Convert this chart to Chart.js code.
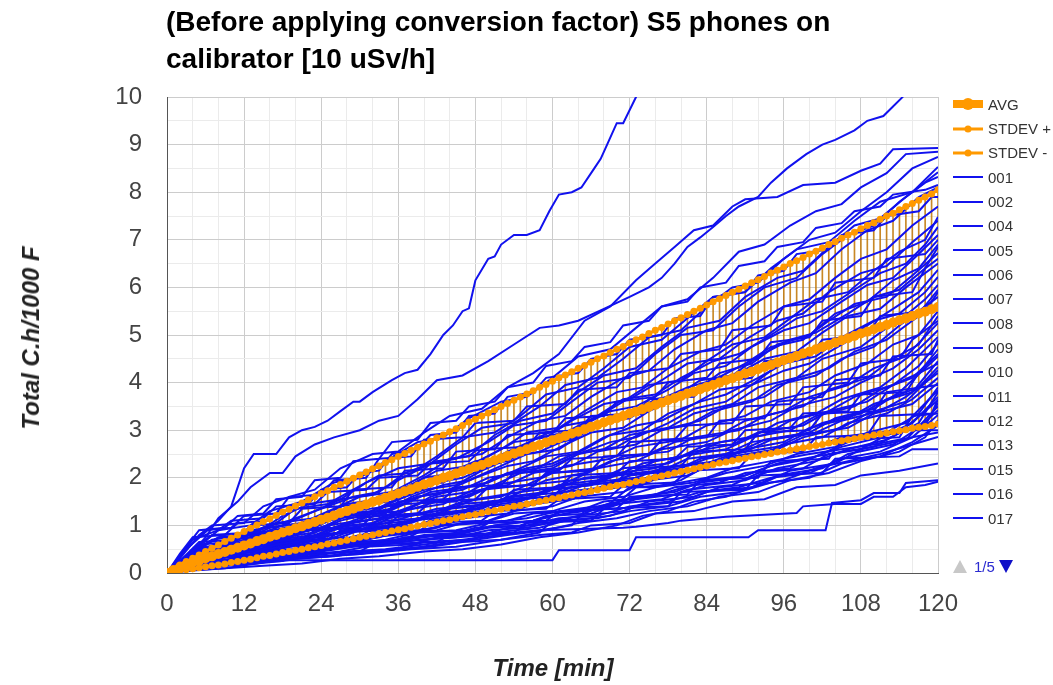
<!DOCTYPE html>
<html>
<head>
<meta charset="utf-8">
<script src="https://cdn.jsdelivr.net/npm/chart.js@4.4.0/dist/chart.umd.min.js"></script>
<style>
  body { margin: 0; background: #fff; font-family: "Liberation Sans", Arial, sans-serif; }
  #wrap { position: relative; width: 1053px; height: 685px; overflow: hidden; }
  #chart { position: absolute; left: 0; top: 0; }
  #title { position: absolute; left: 166px; top: 3px; font-weight: bold; font-size: 28px; line-height: 37px; color: #000; white-space: nowrap; }
  #ytitle { position: absolute; left: 31px; top: 338px; transform: translate(-50%, -50%) rotate(-90deg); font-weight: bold; font-style: italic; font-size: 24px; color: #222; white-space: nowrap; }
  #xtitle { position: absolute; left: 553px; top: 668px; transform: translate(-50%, -50%); font-weight: bold; font-style: italic; font-size: 24px; color: #222; white-space: nowrap; }
  #legend { position: absolute; left: 953px; top: 92px; font-size: 15px; color: #333; }
  .row { height: 24.35px; display: flex; align-items: center; }
  .swatch { position: relative; width: 30px; height: 14px; margin-right: 5px; }
  .swatch .ln { position: absolute; left: 0; right: 0; top: 50%; transform: translateY(-50%); }
  .swatch .dot { position: absolute; left: 50%; top: 50%; border-radius: 50%; transform: translate(-50%, -50%); }
  #pager { position: absolute; left: 953px; top: 558px; font-size: 15px; color: #2a2ad0; display: flex; align-items: center; }
  .tri-up { width: 0; height: 0; border-left: 7px solid transparent; border-right: 7px solid transparent; border-bottom: 13px solid #c8c8c8; margin-right: 7px; }
  .tri-down { width: 0; height: 0; border-left: 7px solid transparent; border-right: 7px solid transparent; border-top: 13px solid #1010c8; margin-left: 4px; }
</style>
</head>
<body>
<div id="wrap">
  <canvas id="chart" width="1053" height="685"></canvas>
  <div id="title">(Before applying conversion factor) S5 phones on<br>calibrator [10 uSv/h]</div>
  <div id="ytitle">Total C.h/1000 F</div>
  <div id="xtitle">Time [min]</div>
  <div id="legend"></div>
  <div id="pager"><div class="tri-up"></div><span>1/5</span><div class="tri-down"></div></div>
</div>
<script>
// time axis, one sample per minute
const minutes = [];
for (let t = 0; t <= 120; t++) minutes.push(t);

const avgValues = [
  0.00, 0.06, 0.12, 0.17, 0.22, 0.26, 0.31, 0.35, 0.40, 0.44,
  0.49, 0.53, 0.58, 0.62, 0.67, 0.71, 0.76, 0.80, 0.85, 0.89,
  0.94, 0.98, 1.03, 1.07, 1.12, 1.16, 1.21, 1.26, 1.30, 1.35,
  1.40, 1.44, 1.49, 1.53, 1.58, 1.63, 1.67, 1.72, 1.76, 1.81,
  1.86, 1.90, 1.95, 2.00, 2.04, 2.09, 2.14, 2.18, 2.23, 2.27,
  2.32, 2.37, 2.41, 2.46, 2.51, 2.55, 2.60, 2.65, 2.69, 2.74,
  2.79, 2.83, 2.88, 2.93, 2.97, 3.02, 3.07, 3.11, 3.16, 3.21,
  3.25, 3.30, 3.35, 3.39, 3.44, 3.49, 3.53, 3.58, 3.63, 3.67,
  3.72, 3.77, 3.81, 3.86, 3.91, 3.95, 4.00, 4.05, 4.09, 4.14,
  4.19, 4.23, 4.28, 4.33, 4.37, 4.42, 4.47, 4.51, 4.56, 4.61,
  4.65, 4.70, 4.75, 4.79, 4.84, 4.89, 4.93, 4.98, 5.03, 5.07,
  5.12, 5.17, 5.21, 5.26, 5.31, 5.35, 5.40, 5.45, 5.49, 5.54,
  5.59
];

const stdevPlus = [
  0.00, 0.09, 0.17, 0.24, 0.31, 0.38, 0.45, 0.52, 0.59, 0.66,
  0.73, 0.80, 0.87, 0.94, 1.01, 1.08, 1.14, 1.21, 1.28, 1.34,
  1.41, 1.47, 1.54, 1.60, 1.67, 1.73, 1.80, 1.86, 1.93, 1.99,
  2.06, 2.12, 2.19, 2.25, 2.32, 2.38, 2.45, 2.51, 2.58, 2.64,
  2.71, 2.77, 2.84, 2.90, 2.97, 3.03, 3.10, 3.17, 3.23, 3.30,
  3.36, 3.43, 3.50, 3.56, 3.63, 3.70, 3.76, 3.83, 3.90, 3.96,
  4.03, 4.10, 4.16, 4.23, 4.30, 4.36, 4.43, 4.50, 4.56, 4.63,
  4.70, 4.76, 4.83, 4.90, 4.96, 5.03, 5.10, 5.16, 5.23, 5.30,
  5.36, 5.43, 5.50, 5.56, 5.63, 5.70, 5.76, 5.83, 5.90, 5.96,
  6.03, 6.10, 6.16, 6.23, 6.30, 6.36, 6.43, 6.50, 6.56, 6.63,
  6.70, 6.76, 6.83, 6.90, 6.96, 7.03, 7.10, 7.16, 7.23, 7.30,
  7.36, 7.43, 7.50, 7.56, 7.63, 7.70, 7.76, 7.83, 7.90, 7.96,
  8.05
];

const stdevMinus = [
  0.00, 0.03, 0.05, 0.07, 0.09, 0.11, 0.13, 0.15, 0.17, 0.19,
  0.22, 0.24, 0.27, 0.29, 0.32, 0.35, 0.37, 0.40, 0.43, 0.45,
  0.48, 0.50, 0.53, 0.55, 0.58, 0.61, 0.63, 0.66, 0.69, 0.72,
  0.75, 0.77, 0.80, 0.83, 0.85, 0.88, 0.91, 0.93, 0.96, 0.99,
  1.02, 1.04, 1.07, 1.10, 1.12, 1.15, 1.18, 1.21, 1.23, 1.26,
  1.29, 1.31, 1.34, 1.37, 1.40, 1.42, 1.45, 1.47, 1.50, 1.53,
  1.56, 1.58, 1.61, 1.64, 1.67, 1.69, 1.72, 1.75, 1.78, 1.81,
  1.84, 1.86, 1.89, 1.92, 1.95, 1.98, 2.01, 2.04, 2.07, 2.10,
  2.13, 2.16, 2.19, 2.22, 2.25, 2.28, 2.31, 2.33, 2.36, 2.39,
  2.41, 2.44, 2.46, 2.49, 2.51, 2.54, 2.56, 2.58, 2.61, 2.63,
  2.66, 2.68, 2.70, 2.73, 2.75, 2.78, 2.80, 2.82, 2.85, 2.87,
  2.90, 2.92, 2.94, 2.97, 2.99, 3.01, 3.04, 3.06, 3.08, 3.10,
  3.13
];

// individual phones: [minute, value] readings
const l01 = [[0,0],[3,0.5],[8,1.1],[10,1.4],[12,2.2],[13.5,2.5],[17,2.5],[19,2.85],[21,3.0],[23,3.07],[25,3.2],[27,3.4],[29,3.6],[30,3.6],[32,3.8],[35,4.05],[37,4.2],[39,4.27],[41,4.6],[43,5.0],[44.5,5.2],[46,5.5],[47,5.56],[48,6.15],[50,6.6],[51,6.65],[52,6.9],[54,7.1],[56,7.1],[58,7.2],[59.5,7.6],[61,7.95],[63,8.0],[64.5,8.1],[66.5,8.5],[67.5,8.7],[68.5,9.0],[70,9.45],[71,9.45],[73,10.0],[75,10.5]];
const l02 = [[0,0],[3,0.3],[6,0.75],[8,1.15],[11,1.5],[13,1.8],[16,2.1],[18,2.1],[20,2.45],[23,2.7],[26,2.85],[30,3.0],[33,3.2],[36,3.3],[39,3.65],[42,4.05],[46,4.15],[50,4.45],[54,4.8],[58,5.15],[61,5.2],[64,5.3],[68,5.55],[72,5.8],[75,6.0],[77,6.2],[79,6.5],[81,6.85],[83,7.05],[85,7.27],[87,7.5],[89,7.7],[92,7.9],[94,8.2],[96.5,8.5],[99.5,8.8],[102,9.0],[104,9.1],[107,9.3],[109,9.5],[111.5,9.6],[113,9.8],[114.5,10.0],[116,10.4]];
const l03 = [[0,0],[2,0.3],[5,0.8],[7,1.0],[12,1.05],[15,1.4],[19,1.6],[23,1.75],[27,2.2],[32,2.5],[36,2.55],[40,2.95],[44,3.3],[49,3.45],[53,3.9],[57,4.2],[61,4.6],[65,5.3],[69,5.6],[73,6.15],[76,6.5],[79,6.85],[82,7.2],[85,7.3],[88,7.7],[90,7.85],[95,7.9],[99,8.15],[104,8.2],[108,8.45],[111,8.6],[113,8.9],[120,8.93]];
const l04 = [[0,0],[4,0.45],[8,0.9],[13,1.0],[16,1.3],[21,1.5],[26,1.9],[30,2.0],[34,2.35],[39,2.75],[43,2.85],[47,3.25],[52,3.6],[56,3.7],[60,4.1],[64,4.55],[69,4.7],[73,5.15],[77,5.6],[81,5.75],[85,6.2],[89,6.75],[93,6.9],[97,7.3],[101,7.6],[105,7.75],[108,8.1],[112,8.4],[115,8.8],[120,8.85]];
const l05 = [[0,0],[5,0.55],[9,0.8],[14,0.85],[18,1.2],[22,1.45],[27,1.55],[31,1.9],[36,2.2],[41,2.3],[45,2.7],[49,3.05],[54,3.15],[58,3.5],[62,3.95],[67,4.1],[71,4.5],[75,4.95],[80,5.1],[84,5.6],[88,6.0],[92,6.1],[96,6.6],[100,7.0],[104,7.15],[108,7.6],[112,8.0],[116,8.5],[120,8.74]];
const l06 = [[0,0],[3,0.35],[7,0.7],[12,0.8],[17,1.05],[20,1.35],[25,1.45],[29,1.75],[33,2.05],[38,2.1],[42,2.45],[46,2.85],[51,2.95],[55,3.3],[59,3.75],[64,3.9],[68,4.3],[72,4.75],[77,4.9],[81,5.35],[85,5.8],[90,5.9],[94,6.4],[98,6.8],[103,6.95],[107,7.4],[111,7.8],[116,8.0],[120,8.53]];
const l07 = [[0,0],[6,0.5],[10,0.65],[15,0.95],[19,1.1],[24,1.35],[29,1.6],[33,1.7],[37,2.1],[42,2.35],[47,2.45],[51,2.9],[55,3.2],[60,3.35],[64,3.8],[68,4.15],[73,4.3],[77,4.75],[81,5.15],[86,5.3],[90,5.8],[95,6.2],[99,6.35],[103,6.85],[107,7.3],[111,7.45],[115,7.9],[120,8.42]];
const l08 = [[0,0],[4,0.35],[9,0.6],[13,0.9],[18,1.0],[23,1.3],[27,1.55],[32,1.65],[36,1.95],[41,2.3],[45,2.4],[50,2.75],[54,3.1],[59,3.2],[63,3.6],[67,4.0],[72,4.1],[76,4.6],[80,5.0],[85,5.1],[89,5.6],[93,6.0],[98,6.2],[102,6.7],[106,7.1],[110,7.3],[114,7.8],[118,8.2],[120,8.32]];
const l09 = [[0,0],[3,0.3],[8,0.55],[12,0.7],[16,0.95],[21,1.05],[26,1.35],[30,1.6],[35,1.7],[40,2.05],[44,2.4],[49,2.5],[53,2.85],[58,3.2],[62,3.3],[66,3.7],[71,4.1],[75,4.25],[79,4.7],[84,5.1],[88,5.25],[92,5.7],[97,6.1],[101,6.3],[105,6.8],[109,7.2],[113,7.4],[117,7.9],[120,8.1]];
const l10 = [[0,0],[5,0.4],[10,0.55],[14,0.8],[19,0.95],[24,1.2],[28,1.45],[33,1.55],[38,1.85],[42,2.15],[47,2.25],[52,2.6],[56,2.95],[61,3.05],[65,3.4],[70,3.8],[74,3.9],[78,4.3],[83,4.65],[87,4.8],[91,5.2],[96,5.6],[100,5.75],[104,6.2],[108,6.6],[112,6.8],[116,7.3],[120,7.7]];
const l11 = [[0,0],[2,0.2],[6,0.5],[11,0.6],[15,0.85],[20,1.0],[25,1.1],[29,1.4],[34,1.65],[39,1.75],[43,2.05],[48,2.35],[53,2.45],[57,2.8],[62,3.1],[66,3.2],[71,3.6],[75,3.95],[80,4.05],[84,4.45],[88,4.8],[93,4.95],[97,5.35],[101,5.75],[106,5.9],[110,6.35],[114,6.75],[118,7.0],[120,7.48]];
const l12 = [[0,0],[4,0.3],[9,0.45],[13,0.7],[18,0.8],[22,1.05],[27,1.3],[31,1.4],[36,1.7],[40,2.0],[45,2.1],[50,2.45],[54,2.75],[59,2.85],[63,3.2],[68,3.55],[72,3.65],[77,4.05],[81,4.4],[86,4.5],[90,4.9],[95,5.3],[99,5.45],[103,5.9],[108,6.3],[112,6.45],[116,6.95],[120,7.4]];
const l13 = [[0,0],[3,0.25],[7,0.5],[12,0.55],[16,0.8],[21,0.95],[26,1.2],[30,1.45],[35,1.5],[39,1.85],[44,2.1],[48,2.2],[53,2.55],[58,2.85],[62,2.95],[67,3.3],[71,3.65],[76,3.75],[80,4.1],[85,4.45],[89,4.6],[94,5.0],[98,5.35],[102,5.5],[107,5.95],[111,6.3],[115,6.5],[118,6.9],[120,7.27]];
const l14 = [[0,0],[5,0.35],[10,0.4],[14,0.65],[19,0.75],[23,1.0],[28,1.25],[32,1.3],[37,1.6],[42,1.9],[46,2.0],[51,2.3],[55,2.6],[60,2.7],[64,3.05],[69,3.4],[73,3.5],[78,3.85],[82,4.2],[87,4.35],[91,4.75],[96,5.1],[100,5.25],[105,5.7],[109,6.05],[113,6.2],[117,6.7],[120,7.1]];
const l15 = [[0,0],[2,0.15],[6,0.4],[11,0.5],[15,0.7],[20,0.8],[24,1.05],[29,1.25],[34,1.3],[38,1.6],[43,1.85],[47,1.95],[52,2.25],[56,2.5],[61,2.6],[65,2.95],[70,3.25],[74,3.35],[79,3.7],[83,4.05],[88,4.15],[92,4.55],[97,4.9],[101,5.05],[106,5.45],[110,5.8],[114,5.95],[118,6.4],[120,6.85]];
const l16 = [[0,0],[4,0.35],[8,0.45],[13,0.6],[17,0.75],[22,0.9],[26,1.15],[31,1.25],[35,1.5],[40,1.75],[45,1.85],[49,2.15],[54,2.45],[58,2.55],[63,2.85],[67,3.15],[72,3.25],[76,3.6],[81,3.9],[85,4.05],[90,4.4],[94,4.75],[99,4.9],[103,5.3],[107,5.65],[112,5.8],[116,6.25],[120,6.72]];
const l17 = [[0,0],[3,0.2],[7,0.35],[12,0.5],[16,0.6],[21,0.85],[25,1.0],[30,1.1],[34,1.4],[39,1.6],[43,1.7],[48,2.0],[53,2.25],[57,2.35],[62,2.7],[66,2.95],[71,3.05],[75,3.4],[80,3.7],[84,3.85],[89,4.2],[93,4.5],[98,4.65],[102,5.05],[106,5.4],[111,5.55],[115,6.0],[120,6.5]];
const l18 = [[0,0],[5,0.3],[9,0.45],[14,0.55],[18,0.75],[23,0.85],[27,1.1],[32,1.25],[37,1.3],[41,1.6],[46,1.8],[50,1.9],[55,2.2],[59,2.45],[64,2.55],[68,2.85],[73,3.1],[77,3.2],[82,3.55],[86,3.85],[91,3.95],[95,4.35],[100,4.65],[104,4.8],[109,5.2],[113,5.55],[117,5.9],[120,6.37]];
const l19 = [[0,0],[2,0.1],[6,0.3],[11,0.4],[15,0.6],[20,0.7],[24,0.9],[29,1.05],[33,1.15],[38,1.4],[42,1.6],[47,1.7],[51,2.0],[56,2.2],[60,2.3],[65,2.6],[69,2.9],[74,3.0],[78,3.35],[83,3.6],[87,3.75],[92,4.1],[96,4.4],[101,4.55],[105,4.95],[110,5.3],[114,5.45],[118,5.9],[120,6.22]];
const l20 = [[0,0],[4,0.25],[10,0.35],[14,0.55],[19,0.65],[24,0.8],[28,1.0],[33,1.05],[37,1.3],[42,1.5],[46,1.6],[51,1.85],[55,2.1],[60,2.2],[64,2.5],[69,2.75],[73,2.85],[78,3.15],[82,3.45],[87,3.6],[91,3.95],[96,4.25],[100,4.4],[105,4.8],[109,5.1],[114,5.3],[118,5.75],[120,6.05]];
const l21 = [[0,0],[3,0.3],[6,0.55],[12,0.6],[16,0.8],[24,0.95],[28,1.2],[35,1.35],[39,1.6],[46,1.75],[50,2.0],[57,2.15],[61,2.45],[68,2.6],[72,2.9],[78,3.05],[82,3.35],[88,3.55],[92,3.9],[98,4.1],[102,4.5],[108,4.75],[112,5.15],[117,5.45],[120,5.95]];
const l22 = [[0,0],[5,0.5],[8,0.75],[14,0.8],[18,1.0],[25,1.1],[29,1.3],[37,1.45],[41,1.7],[49,1.85],[53,2.1],[60,2.25],[64,2.5],[70,2.65],[74,2.95],[81,3.1],[85,3.4],[91,3.6],[95,3.95],[101,4.15],[105,4.5],[110,4.75],[114,5.2],[120,5.8]];
const l23 = [[0,0],[2,0.1],[7,0.3],[13,0.4],[17,0.6],[22,0.7],[26,0.95],[32,1.05],[36,1.3],[43,1.45],[47,1.7],[53,1.85],[57,2.1],[63,2.25],[67,2.55],[73,2.7],[77,3.0],[83,3.2],[87,3.5],[93,3.7],[97,4.05],[103,4.3],[107,4.65],[112,4.9],[116,5.3],[120,5.67]];
const l24 = [[0,0],[4,0.4],[9,0.6],[15,0.65],[19,0.85],[26,0.95],[30,1.15],[36,1.25],[40,1.5],[47,1.6],[51,1.85],[58,2.0],[62,2.25],[69,2.4],[73,2.65],[80,2.8],[84,3.1],[90,3.3],[94,3.6],[100,3.8],[104,4.15],[109,4.4],[113,4.8],[117,5.0],[120,5.5]];
const l25 = [[0,0],[3,0.2],[8,0.35],[13,0.45],[18,0.55],[23,0.75],[28,0.85],[34,1.05],[38,1.2],[44,1.35],[48,1.55],[55,1.7],[59,1.95],[65,2.1],[69,2.35],[75,2.5],[79,2.75],[86,2.9],[90,3.2],[96,3.4],[100,3.7],[106,3.95],[110,4.3],[115,4.55],[120,5.25]];
const l26 = [[0,0],[5,0.35],[11,0.45],[15,0.65],[21,0.7],[25,0.9],[31,1.0],[35,1.2],[42,1.3],[46,1.5],[52,1.6],[56,1.85],[63,1.95],[67,2.2],[73,2.35],[77,2.6],[84,2.75],[88,3.0],[94,3.2],[98,3.5],[104,3.7],[108,4.0],[113,4.3],[117,4.7],[120,5.1]];
const l27 = [[0,0],[2,0.15],[6,0.25],[11,0.4],[16,0.5],[21,0.65],[27,0.75],[31,0.95],[38,1.05],[42,1.25],[49,1.35],[53,1.6],[59,1.7],[63,1.95],[70,2.05],[74,2.3],[80,2.45],[84,2.7],[91,2.85],[95,3.15],[101,3.35],[105,3.65],[111,3.9],[115,4.3],[120,4.96]];
const l28 = [[0,0],[4,0.3],[10,0.35],[14,0.55],[20,0.6],[24,0.8],[30,0.9],[34,1.1],[40,1.15],[44,1.35],[51,1.45],[55,1.7],[61,1.8],[65,2.0],[72,2.1],[76,2.35],[82,2.5],[86,2.75],[93,2.9],[97,3.2],[103,3.4],[107,3.7],[113,3.95],[117,4.35],[120,4.83]];
const l29 = [[0,0],[3,0.25],[7,0.45],[14,0.5],[18,0.6],[25,0.7],[29,0.9],[36,0.95],[40,1.2],[46,1.3],[50,1.5],[57,1.6],[61,1.85],[67,1.95],[71,2.2],[78,2.3],[82,2.55],[88,2.7],[92,2.95],[99,3.1],[103,3.4],[109,3.6],[113,3.95],[117,4.2],[120,4.7]];
const l30 = [[0,0],[5,0.2],[9,0.35],[15,0.4],[19,0.55],[26,0.65],[30,0.8],[37,0.9],[41,1.1],[47,1.2],[51,1.4],[58,1.5],[62,1.7],[68,1.8],[72,2.05],[79,2.15],[83,2.4],[89,2.55],[93,2.8],[100,2.95],[104,3.25],[110,3.45],[114,3.8],[120,4.55]];
const l31 = [[0,0],[2,0.1],[8,0.2],[12,0.35],[17,0.45],[22,0.5],[27,0.65],[33,0.75],[37,0.95],[44,1.05],[48,1.25],[54,1.35],[58,1.55],[65,1.65],[69,1.9],[75,2.0],[79,2.25],[86,2.35],[90,2.6],[96,2.75],[100,3.05],[106,3.25],[110,3.55],[116,3.8],[120,4.45]];
const l32 = [[0,0],[4,0.35],[7,0.5],[13,0.55],[18,0.7],[24,0.75],[28,0.9],[35,1.0],[39,1.15],[45,1.25],[49,1.45],[56,1.55],[60,1.75],[66,1.85],[70,2.05],[77,2.15],[81,2.4],[87,2.5],[91,2.75],[98,2.9],[102,3.15],[108,3.35],[112,3.65],[117,3.9],[120,4.33]];
const l33 = [[0,0],[3,0.15],[9,0.25],[14,0.4],[19,0.45],[25,0.6],[31,0.7],[36,0.85],[42,0.95],[46,1.15],[53,1.25],[57,1.45],[63,1.55],[67,1.75],[74,1.85],[78,2.1],[84,2.2],[88,2.45],[95,2.6],[99,2.85],[105,3.05],[109,3.35],[115,3.6],[120,4.26]];
const l34 = [[0,0],[5,0.45],[8,0.6],[15,0.65],[20,0.75],[27,0.85],[31,1.0],[38,1.1],[42,1.25],[48,1.35],[52,1.5],[59,1.6],[63,1.8],[69,1.9],[73,2.1],[80,2.2],[84,2.4],[90,2.55],[94,2.8],[101,2.95],[105,3.2],[111,3.4],[115,3.7],[120,4.2]];
const l35 = [[0,0],[2,0.1],[6,0.2],[11,0.3],[17,0.35],[21,0.5],[28,0.6],[32,0.75],[39,0.85],[43,1.0],[50,1.1],[54,1.3],[60,1.4],[64,1.6],[71,1.7],[75,1.95],[81,2.05],[85,2.3],[92,2.45],[96,2.7],[102,2.85],[106,3.15],[112,3.35],[116,3.65],[120,4.1]];
const l36 = [[0,0],[4,0.4],[9,0.7],[14,0.75],[19,0.9],[26,0.95],[30,1.1],[38,1.2],[42,1.35],[50,1.45],[54,1.6],[62,1.7],[66,1.9],[73,2.0],[77,2.2],[84,2.3],[88,2.5],[95,2.65],[99,2.9],[106,3.05],[110,3.35],[116,3.55],[120,3.99]];
const l37 = [[0,0],[3,0.1],[8,0.2],[13,0.25],[18,0.35],[24,0.45],[29,0.55],[35,0.65],[40,0.75],[46,0.85],[51,1.0],[57,1.1],[62,1.3],[68,1.4],[73,1.6],[79,1.7],[84,1.95],[90,2.05],[95,2.3],[101,2.45],[106,2.75],[112,2.95],[117,3.35],[120,3.9]];
const l38 = [[0,0],[5,0.3],[10,0.45],[16,0.5],[21,0.6],[27,0.65],[32,0.8],[38,0.85],[43,1.0],[49,1.05],[54,1.25],[60,1.3],[65,1.5],[71,1.6],[76,1.8],[82,1.9],[87,2.1],[93,2.25],[98,2.5],[104,2.65],[109,2.95],[115,3.15],[120,3.84]];
const l39 = [[0,0],[2,0.15],[7,0.3],[12,0.35],[17,0.45],[23,0.5],[28,0.6],[34,0.7],[39,0.85],[45,0.9],[50,1.05],[56,1.15],[61,1.3],[67,1.4],[72,1.55],[78,1.7],[83,1.9],[89,2.0],[94,2.25],[100,2.4],[105,2.65],[111,2.85],[116,3.15],[120,3.7]];
const l40 = [[0,0],[4,0.2],[11,0.25],[15,0.35],[22,0.4],[26,0.55],[33,0.6],[37,0.75],[44,0.8],[48,0.95],[55,1.0],[59,1.2],[66,1.25],[70,1.45],[77,1.55],[81,1.75],[88,1.85],[92,2.1],[99,2.2],[103,2.5],[110,2.65],[114,2.95],[120,3.63]];
const l41 = [[0,0],[3,0.25],[6,0.45],[12,0.5],[19,0.55],[24,0.65],[31,0.7],[35,0.85],[42,0.9],[46,1.05],[53,1.1],[57,1.25],[64,1.3],[68,1.5],[75,1.6],[79,1.8],[86,1.9],[90,2.1],[97,2.2],[101,2.45],[108,2.6],[112,2.9],[118,3.1],[120,3.57]];
const l42 = [[0,0],[5,0.15],[10,0.2],[16,0.3],[20,0.35],[27,0.45],[31,0.55],[38,0.6],[42,0.75],[49,0.8],[53,0.95],[60,1.05],[64,1.2],[71,1.3],[75,1.5],[82,1.6],[86,1.8],[93,1.9],[97,2.15],[104,2.3],[108,2.6],[115,2.8],[120,3.5]];
const l43 = [[0,0],[2,0.05],[8,0.15],[14,0.2],[18,0.3],[25,0.35],[29,0.45],[36,0.5],[40,0.65],[47,0.7],[51,0.85],[58,0.95],[62,1.1],[69,1.2],[73,1.4],[80,1.5],[84,1.7],[91,1.8],[95,2.05],[102,2.2],[106,2.5],[113,2.7],[117,3.05],[120,3.42]];
const l44 = [[0,0],[4,0.3],[8,0.4],[14,0.45],[21,0.5],[26,0.6],[33,0.65],[38,0.75],[45,0.8],[50,0.95],[56,1.0],[61,1.15],[67,1.2],[72,1.4],[78,1.5],[83,1.7],[89,1.8],[94,2.0],[100,2.1],[105,2.4],[111,2.55],[116,2.85],[120,3.32]];
const l45 = [[0,0],[3,0.1],[9,0.15],[15,0.25],[20,0.3],[26,0.35],[31,0.45],[37,0.5],[42,0.6],[48,0.7],[53,0.8],[59,0.9],[64,1.05],[70,1.15],[75,1.3],[81,1.4],[86,1.6],[92,1.7],[97,1.95],[103,2.1],[108,2.35],[114,2.55],[118,2.85],[120,3.21]];
const l46 = [[0,0],[5,0.25],[12,0.3],[17,0.4],[23,0.45],[28,0.55],[34,0.6],[39,0.7],[45,0.75],[50,0.9],[56,0.95],[61,1.1],[67,1.15],[72,1.3],[78,1.4],[83,1.6],[89,1.7],[94,1.9],[100,2.0],[105,2.3],[111,2.45],[116,2.75],[120,3.1]];
const l47 = [[0,0],[2,0.1],[7,0.15],[13,0.2],[19,0.3],[24,0.35],[30,0.4],[35,0.5],[41,0.55],[46,0.65],[52,0.7],[58,0.85],[60,1.1],[64,1.2],[69,1.47],[72,1.8],[76,1.8],[80,1.95],[84,2.25],[87,2.4],[94,2.5],[97,2.6],[102,2.7],[105,2.85],[110,2.95],[115,3.0],[120,3.0]];
const l48 = [[0,0],[4,0.15],[10,0.2],[16,0.3],[22,0.35],[28,0.45],[34,0.5],[40,0.6],[46,0.7],[52,0.8],[58,0.9],[63,1.0],[65,1.3],[70,1.45],[73,1.8],[78,1.85],[84,2.0],[88,2.2],[94,2.35],[100,2.5],[105,2.6],[110,2.7],[116,2.85],[120,2.95]];
const l49 = [[0,0],[3,0.05],[9,0.1],[15,0.15],[21,0.2],[27,0.3],[33,0.35],[40,0.45],[46,0.5],[52,0.6],[58,0.75],[64,0.85],[70,1.0],[74,1.2],[78,1.3],[82,1.5],[87,1.6],[92,1.85],[96,1.95],[101,2.2],[106,2.35],[111,2.5],[116,2.7],[120,2.86]];
const l50 = [[0,0],[4,0.05],[9,0.1],[14,0.2],[19,0.27],[60,0.27],[61,0.48],[72,0.48],[73,0.75],[90.5,0.75],[92,0.9],[102.5,0.9],[103.5,1.47],[108,1.53],[110,1.68],[114,1.68],[115,1.89],[120,1.95]];
const l51 = [[0,0],[5,0.15],[10,0.3],[18,0.45],[25,0.55],[32,0.6],[40,0.7],[50,0.8],[58,0.9],[71,0.95],[73,0.97],[78,1.05],[80,1.1],[87,1.18],[98,1.26],[99,1.4],[104,1.45],[108,1.45],[110,1.6],[113,1.6],[115,1.8],[118,1.85],[120,1.92]];
const l52 = [[0,0],[6,0.1],[12,0.2],[20,0.3],[30,0.4],[38,0.5],[45,0.55],[52,0.7],[58,0.8],[63,0.85],[66,1.0],[72,1.05],[76,1.25],[82,1.3],[88,1.5],[93,1.55],[98,1.8],[104,1.85],[108,2.05],[114,2.15],[120,2.3]];
const l53 = [[0,0],[3,0.35],[5,0.6],[10,0.65],[14,0.85],[22,0.9],[26,1.15],[33,1.2],[37,1.45],[45,1.5],[49,1.75],[56,1.85],[60,2.1],[67,2.2],[71,2.45],[78,2.55],[82,2.85],[89,3.0],[93,3.3],[99,3.5],[103,3.85],[109,4.1],[113,4.5],[117,4.8],[120,5.4]];
const l54 = [[0,0],[4,0.2],[11,0.3],[16,0.4],[23,0.45],[29,0.6],[35,0.65],[40,0.8],[46,0.85],[51,1.0],[57,1.1],[62,1.25],[68,1.35],[73,1.55],[79,1.65],[84,1.85],[90,1.95],[95,2.2],[101,2.35],[106,2.6],[112,2.8],[117,3.15],[120,3.8]];
const l55 = [[0,0],[2,0.2],[5,0.4],[11,0.45],[16,0.6],[22,0.65],[27,0.85],[34,0.9],[38,1.1],[45,1.2],[49,1.4],[55,1.5],[59,1.75],[66,1.85],[70,2.1],[76,2.2],[80,2.45],[87,2.6],[91,2.85],[97,3.0],[101,3.3],[107,3.5],[111,3.85],[116,4.1],[120,4.6]];
const l56 = [[0,0],[4,0.5],[7,0.8],[13,0.85],[17,1.05],[23,1.15],[27,1.4],[33,1.5],[37,1.8],[43,1.9],[47,2.2],[53,2.35],[57,2.65],[63,2.8],[67,3.15],[72,3.3],[76,3.65],[82,3.8],[86,4.2],[91,4.4],[95,4.8],[100,5.0],[104,5.45],[109,5.7],[113,6.15],[117,6.4],[120,6.9]];
const l57 = [[0,0],[2,0.4],[4,0.75],[9,0.8],[11,1.05],[16,1.1],[18,1.4],[22,1.45],[24,1.75],[28,1.8],[30,2.1],[33,2.15],[35,2.5],[39,2.6],[41,2.9],[45,2.95],[47,3.3],[51,3.35],[53,3.7],[57,3.8],[59,4.1],[64,4.2],[66,4.5],[70,4.6],[72,4.9],[77,5.0],[79,5.35],[83,5.4],[85,5.8],[90,5.9],[92,6.25],[96,6.35],[98,6.7],[103,6.8],[105,7.1],[110,7.2],[112,7.5],[117,7.6],[119,7.9],[120,7.9]];
const l58 = [[0,0],[3,0.5],[6,0.9],[10,0.95],[12,1.2],[17,1.25],[19,1.6],[24,1.65],[26,1.95],[31,2.0],[33,2.4],[38,2.45],[40,2.8],[46,2.85],[48,3.15],[54,3.2],[56,3.5],[62,3.55],[64,3.85],[70,3.9],[72,4.2],[78,4.3],[80,4.6],[86,4.7],[88,5.1],[94,5.2],[96,5.6],[102,5.7],[104,6.1],[110,6.2],[112,6.6],[118,6.7],[120,7.0]];
const l59 = [[0,0],[2,0.25],[5,0.65],[11,0.7],[13,1.0],[19,1.05],[21,1.35],[27,1.4],[29,1.75],[35,1.8],[37,2.15],[43,2.2],[45,2.55],[51,2.6],[53,2.9],[60,2.95],[62,3.25],[68,3.3],[70,3.6],[76,3.7],[78,4.0],[84,4.1],[86,4.4],[92,4.5],[94,4.85],[100,4.95],[102,5.3],[108,5.4],[110,5.8],[116,5.9],[118,6.4],[120,6.6]];
const l60 = [[0,0],[3,0.3],[8,0.35],[10,0.6],[16,0.65],[18,0.9],[25,0.95],[27,1.2],[34,1.25],[36,1.5],[43,1.55],[45,1.8],[52,1.85],[54,2.1],[61,2.15],[63,2.4],[70,2.45],[72,2.75],[79,2.8],[81,3.1],[88,3.15],[90,3.5],[97,3.55],[99,3.9],[106,4.0],[108,4.4],[114,4.5],[116,4.9],[120,5.3]];
const l61 = [[0,0],[2,0.15],[7,0.2],[9,0.4],[16,0.45],[18,0.65],[25,0.7],[27,0.9],[34,0.95],[36,1.2],[43,1.25],[45,1.45],[52,1.5],[54,1.75],[61,1.8],[63,2.05],[70,2.1],[72,2.35],[79,2.4],[81,2.65],[88,2.7],[90,3.0],[97,3.05],[99,3.35],[106,3.4],[108,3.75],[115,3.8],[117,4.2],[120,4.4]];
const l62 = [[0,0],[4,0.2],[10,0.25],[12,0.45],[20,0.5],[22,0.7],[30,0.75],[32,0.95],[40,1.0],[42,1.25],[50,1.3],[52,1.55],[60,1.6],[62,1.85],[70,1.9],[72,2.2],[80,2.25],[82,2.55],[90,2.6],[92,2.95],[100,3.0],[102,3.35],[110,3.4],[112,3.8],[120,3.95]];
const l63 = [[0,0],[5,0.1],[7,0.25],[15,0.3],[17,0.45],[26,0.5],[28,0.65],[37,0.7],[39,0.85],[48,0.9],[50,1.05],[59,1.1],[61,1.3],[70,1.35],[72,1.6],[81,1.65],[83,1.95],[92,2.0],[94,2.35],[103,2.4],[105,2.8],[114,2.85],[116,3.3],[120,3.35]];
const l64 = [[0,0],[6,0.1],[8,0.2],[18,0.25],[20,0.4],[30,0.45],[32,0.6],[42,0.65],[44,0.8],[54,0.85],[56,1.05],[66,1.1],[68,1.35],[78,1.4],[80,1.7],[90,1.75],[92,2.05],[102,2.1],[104,2.4],[114,2.45],[116,2.6],[120,2.6]];
const l65 = [[0,0],[2,0.35],[4,0.7],[8,0.9],[10,1.1],[15,1.15],[17,1.4],[23,1.45],[25,1.7],[31,1.75],[33,2.0],[39,2.05],[41,2.3],[47,2.35],[49,2.6],[56,2.65],[58,2.95],[64,3.0],[66,3.3],[73,3.35],[75,3.65],[82,3.7],[84,4.0],[91,4.1],[93,4.45],[100,4.55],[102,4.9],[109,5.0],[111,5.4],[118,5.5],[120,5.9]];
const l66 = [[0,0],[3,0.2],[6,0.4],[12,0.45],[14,0.65],[21,0.7],[23,0.9],[30,0.95],[32,1.2],[39,1.25],[41,1.5],[48,1.55],[50,1.8],[57,1.85],[59,2.1],[66,2.15],[68,2.45],[75,2.5],[77,2.8],[84,2.85],[86,3.2],[93,3.25],[95,3.6],[102,3.7],[104,4.05],[111,4.15],[113,4.55],[119,4.6],[120,4.9]];
const l67 = [[0,0],[3,0.15],[9,0.2],[11,0.35],[19,0.4],[21,0.55],[29,0.6],[31,0.8],[39,0.85],[41,1.05],[49,1.1],[51,1.3],[59,1.35],[61,1.55],[69,1.6],[71,1.85],[79,1.9],[81,2.15],[89,2.2],[91,2.5],[99,2.55],[101,2.85],[109,2.9],[111,3.3],[119,3.35],[120,3.65]];
const l68 = [[0,0],[3,0.55],[5,0.9],[9,0.95],[11,1.2],[15,1.25],[17,1.55],[21,1.6],[23,1.95],[27,2.0],[29,2.35],[33,2.4],[35,2.75],[39,2.8],[41,3.15],[45,3.2],[47,3.5],[51,3.6],[53,3.9],[57,4.0],[59,4.35],[63,4.45],[65,4.75],[69,4.85],[71,5.2],[75,5.3],[77,5.6],[81,5.7],[83,6.0],[87,6.1],[89,6.45],[93,6.55],[95,6.85],[99,6.95],[101,7.25],[105,7.35],[107,7.6],[111,7.7],[113,7.95],[118,8.05],[120,8.15]];

const phoneLabels = ['001','002','004','005','006','007','008','009','010','011','012','013','015','016','017',
  '018','019','020','021','022','023','024','025','026','027','028','029','030','031','032',
  '033','034','035','036','037','038','039','040','041','042','043','044','045','046','047',
  '048','049','050','051','052','053','054','055','056','057','058','059','060','061','062',
  '063','064','065','066','067','068','069','070'];
const phoneLines = [l03,l04,l05,l21,l06,l36,l07,l22,l08,l09,l23,l01,l10,l24,l11,
  l53,l12,l25,l13,l26,l14,l27,l56,l15,l28,l16,l29,l17,l30,l18,
  l31,l19,l32,l20,l33,l34,l02,l35,l37,l38,l39,l40,l41,l42,l43,
  l44,l45,l46,l47,l48,l49,l50,l51,l52,l54,l55,l57,l58,l59,l60,
  l61,l62,l63,l64,l65,l66,l67,l68];

const orange = '#ff9900';
const blue = '#1111ee';

function toPoints(xs, ys) {
  return xs.map((x, i) => ({ x: x, y: ys[i] }));
}

const datasets = [
  { label: 'AVG', data: toPoints(minutes, avgValues), borderColor: orange, backgroundColor: orange,
    borderWidth: 7, pointRadius: 5, pointBorderWidth: 0, order: 0 },
  { label: 'STDEV +', data: toPoints(minutes, stdevPlus), borderColor: orange, backgroundColor: orange,
    borderWidth: 3, pointRadius: 3.5, pointBorderWidth: 0, order: 1 },
  { label: 'STDEV -', data: toPoints(minutes, stdevMinus), borderColor: orange, backgroundColor: orange,
    borderWidth: 3, pointRadius: 3.5, pointBorderWidth: 0, order: 1 }
];

phoneLines.forEach((pts, i) => {
  datasets.push({
    label: phoneLabels[i],
    data: pts.map(p => ({ x: p[0], y: p[1] })),
    borderColor: blue,
    borderWidth: 2,
    pointRadius: 0,
    order: 2
  });
});

// interval bars between stdev- and stdev+
datasets.push({
  type: 'bar',
  label: 'interval',
  data: minutes.map((t, i) => ({ x: t, y: [stdevMinus[i], stdevPlus[i]] })),
  backgroundColor: 'rgba(190,115,0,0.85)',
  barThickness: 1,
  order: 3
});

new Chart(document.getElementById('chart'), {
  type: 'line',
  data: { datasets: datasets },
  options: {
    responsive: false,
    animation: false,
    devicePixelRatio: 1,
    layout: { padding: { top: 97, right: 115, left: 0, bottom: 0 } },
    plugins: { legend: { display: false }, tooltip: { enabled: false }, title: { display: false } },
    elements: { line: { tension: 0 } },
    scales: {
      x: {
        type: 'linear', min: 0, max: 120, offset: false,
        afterFit: (scale) => { scale.height = 112; },
        ticks: {
          stepSize: 4, autoSkip: false, maxRotation: 0, padding: 17,
          color: '#444', font: { family: '"Liberation Sans", Arial', size: 24 },
          callback: (v) => (v % 12 === 0 ? String(v) : '')
        },
        grid: {
          offset: false, drawTicks: false,
          color: (ctx) => ctx.tick.value === 0 ? '#555' : (ctx.tick.value % 12 === 0 ? '#cccccc' : '#ebebeb')
        },
        border: { color: '#555' }
      },
      y: {
        min: 0, max: 10,
        afterFit: (scale) => { scale.width = 167; },
        ticks: {
          stepSize: 0.5, autoSkip: false, padding: 25,
          color: '#444', font: { family: '"Liberation Sans", Arial', size: 24 },
          callback: (v) => (Number.isInteger(v) ? String(v) : '')
        },
        grid: {
          drawTicks: false,
          color: (ctx) => ctx.tick.value === 0 ? '#555' : (Number.isInteger(ctx.tick.value) ? '#cccccc' : '#ebebeb')
        },
        border: { color: '#555' }
      }
    }
  }
});

// legend, first page only
const legendBox = document.getElementById('legend');
datasets.slice(0, 18).forEach((ds) => {
  const row = document.createElement('div');
  row.className = 'row';
  const sw = document.createElement('div');
  sw.className = 'swatch';
  const ln = document.createElement('div');
  ln.className = 'ln';
  ln.style.background = ds.borderColor;
  ln.style.height = (ds.label === 'AVG' ? 8 : ds.borderWidth) + 'px';
  sw.appendChild(ln);
  if (ds.pointRadius > 0) {
    const dot = document.createElement('div');
    dot.className = 'dot';
    const d = ds.label === 'AVG' ? 12 : 7;
    dot.style.width = d + 'px';
    dot.style.height = d + 'px';
    dot.style.background = ds.borderColor;
    sw.appendChild(dot);
  }
  const txt = document.createElement('span');
  txt.textContent = ds.label;
  row.appendChild(sw);
  row.appendChild(txt);
  legendBox.appendChild(row);
});
</script>
</body>
</html>
